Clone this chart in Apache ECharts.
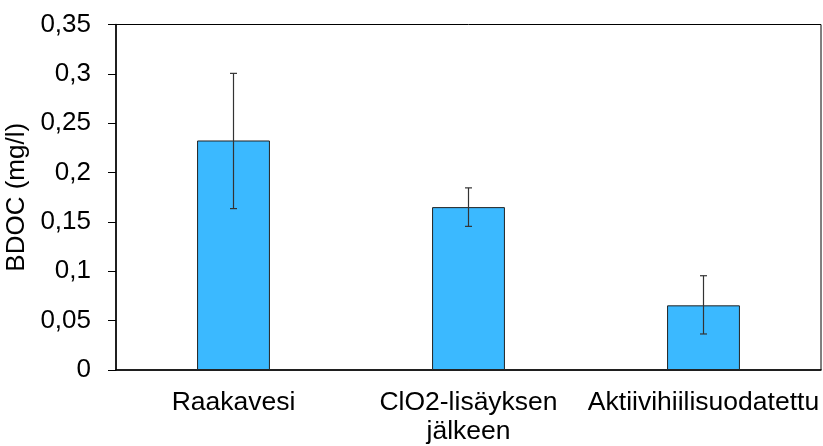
<!DOCTYPE html>
<html><head><meta charset="utf-8">
<script src="https://cdn.jsdelivr.net/npm/echarts@6/dist/echarts.min.js"></script>
<style>html,body{margin:0;padding:0;background:#fff}#c{width:823px;height:446px}</style>
</head><body><div id="c"></div>
<script>
var categories = ['Raakavesi', 'ClO2-lisäyksen\njälkeen', 'Aktiivihiilisuodatettu'];
var values = [0.2325, 0.165, 0.0655];
var errLow = [0.1635, 0.1455, 0.0365];
var errHigh = [0.3005, 0.1845, 0.0955];
var yTicks = [0, 0.05, 0.1, 0.15, 0.2, 0.25, 0.3, 0.35];

var FONT = 'Liberation Sans, Arial, sans-serif';
var chart = echarts.init(document.getElementById('c'));
var errData = categories.map(function(c, i){ return [i, errLow[i], errHigh[i]]; });
chart.setOption({
  animation: false,
  grid: {left: 116, right: 2, top: 24.5, bottom: 76, show: true, borderColor: '#000', borderWidth: 1,
         containLabel: false, outerBoundsMode: 'none'},
  xAxis: {
    type: 'category', data: categories,
    axisLine: {lineStyle: {color: '#000', width: 1.5}},
    axisTick: {show: false},
    axisLabel: {color: '#000', fontFamily: FONT, fontSize: 26.5, margin: 18, lineHeight: 29, interval: 0}
  },
  yAxis: {
    type: 'value', min: 0, max: 0.35, interval: 0.05,
    name: 'BDOC (mg/l)', nameLocation: 'middle', nameGap: 76, nameRotate: 90,
    nameTextStyle: {color: '#000', fontFamily: FONT, fontSize: 26},
    axisLine: {show: true, lineStyle: {color: '#000', width: 1.5}},
    axisTick: {show: true, inside: false, length: 8, lineStyle: {color: '#000'}},
    splitLine: {show: false},
    axisLabel: {color: '#000', fontFamily: FONT, fontSize: 26, margin: 25,
      formatter: function(v){ return String(Math.round(v*100)/100).replace('.', ','); }}
  },
  series: [
    {type: 'bar', data: values, barWidth: '31%',
     itemStyle: {color: '#3BB9FF', borderColor: '#222', borderWidth: 1}},
    {type: 'custom', data: errData, z: 10,
     renderItem: function(params, api){
       var x = api.value(0);
       var lo = api.coord([x, api.value(1)]);
       var hi = api.coord([x, api.value(2)]);
       var cx = lo[0], w = 3.5;
       var st = {stroke: '#333', lineWidth: 1.2};
       return {type: 'group', children: [
         {type: 'line', shape: {x1: cx, y1: lo[1], x2: cx, y2: hi[1]}, style: st},
         {type: 'line', shape: {x1: cx - w, y1: lo[1], x2: cx + w, y2: lo[1]}, style: st},
         {type: 'line', shape: {x1: cx - w, y1: hi[1], x2: cx + w, y2: hi[1]}, style: st}
       ]};
     }}
  ]
});
</script></body></html>
